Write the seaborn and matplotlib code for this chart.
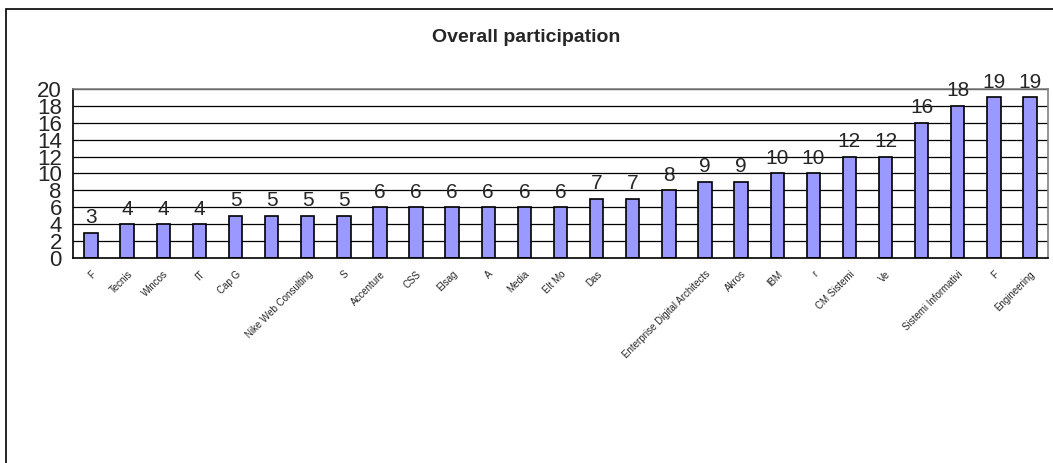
import numpy as np
import pandas as pd
import matplotlib
matplotlib.use("Agg")
import matplotlib.pyplot as plt
import seaborn as sns
from matplotlib.patches import Rectangle

# Companies (labels partly unreadable in the source, kept as they appear)
companies = ["F", "Tecnis", "Wincos", "IT", "Cap G", "", "Nike Web Consulting", "S",
             "Accenture", "CSS", "Elsag", "A", "Media", "Elt Mo", "Das", "", "",
             "Enterprise Digital Architects", "Akros", "IBM", "r", "CM Sistemi", "Ve", "",
             "Sistemi Informativi", "F", "Engineering"]
participation = [3, 4, 4, 4, 5, 5, 5, 5, 6, 6, 6, 6, 6, 6, 7, 7, 8, 9, 9, 10, 10,
                 12, 12, 16, 18, 19, 19]
y_ticks = list(range(0, 21, 2))

df = pd.DataFrame({"pos": range(len(participation)), "value": participation})

sns.set_style("white")
plt.rcParams["font.family"] = ["Liberation Sans", "DejaVu Sans"]

fig = plt.figure(figsize=(10.53, 4.63), dpi=100)
ax = fig.add_axes([0.0693, 0.4428, 0.9260, 0.3650])

sns.barplot(data=df, x="pos", y="value", color="#9999FF", edgecolor="black",
            linewidth=1.2, width=0.37, saturation=1, ax=ax)

ax.set_ylim(0, 20)
ax.set_xlim(-0.5, len(participation) - 0.5)
ax.set_yticks(y_ticks)
ax.set_yticklabels([str(t) for t in y_ticks], fontsize=16)
for t in y_ticks[1:]:
    ax.axhline(t, color="black", lw=0.9, zorder=0)
ax.set_axisbelow(True)

# category labels
ax.set_xticks(range(len(companies)))
ax.set_xticklabels(companies, rotation=45, ha="right", rotation_mode="anchor", fontsize=7)
ax.set_xticks(np.arange(-0.5, len(companies), 1), minor=True)
ax.tick_params(axis="x", which="major", length=0, pad=8)
ax.tick_params(axis="x", which="minor", length=5, width=1, color="black", direction="out")
ax.tick_params(axis="y", length=6, width=1, color="black", direction="out", pad=2)
ax.set_xlabel("")
ax.set_ylabel("")

for s in ["left", "bottom"]:
    ax.spines[s].set_color("black")
    ax.spines[s].set_linewidth(1.2)
for s in ["top", "right"]:
    ax.spines[s].set_color("#808080")
    ax.spines[s].set_linewidth(1.2)

for c in ax.containers:
    ax.bar_label(c, fmt="%d", fontsize=15, padding=4)

fig.text(0.5, 0.918, "Overall participation", ha="center", va="center",
         fontsize=14, fontweight="bold")

# outer chart frame
fig.add_artist(Rectangle((6 / 1053, -0.1), 1.2, (463 - 9) / 463 + 0.1,
                         transform=fig.transFigure, fill=False, lw=1.2,
                         edgecolor="black"))

fig.savefig("out.png", dpi=100)
